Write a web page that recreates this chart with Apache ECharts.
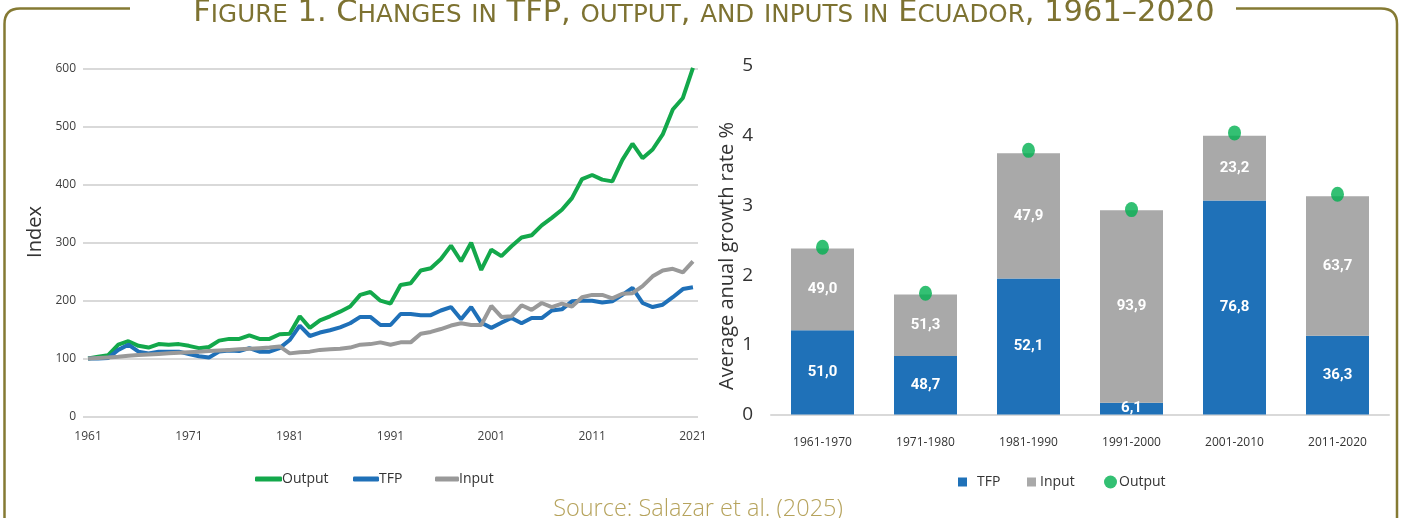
<!DOCTYPE html>
<html>
<head>
<meta charset="utf-8">
<script src="https://cdn.jsdelivr.net/npm/echarts@6/dist/echarts.min.js"></script>
<style>
html,body{margin:0;padding:0;background:#fff;}
#chart{width:1403px;height:518px;}
</style>
</head>
<body>
<div id="chart"></div>
<script>
// ---------- DATA ----------
const titleText = 'Figure 1. Changes in TFP, output, and inputs in Ecuador, 1961–2020';
const sourceText = 'Source: Salazar et al. (2025)';
const leftAxisName = 'Index';
const rightAxisName = 'Average anual growth rate %';

const firstYear = 1961;
const lastYear = 2021;
const yearTicks = [1961, 1971, 1981, 1991, 2001, 2011, 2021];

const outputIndex = [100,103,106,124,130,122,119,125,124,125,122,118,120,131,134,134,140,134,134,142,
  143,173,153,166,173,181,190,210,215,200,195,227,230,252,256,272,295,268,300,253,
  288,277,294,309,313,330,343,357,377,410,417,409,406,443,471,446,461,487,530,550,602];
const tfpIndex = [100,100,101,115,124,112,109,112,112,112,108,104,102,112,114,113,118,112,112,118,
  132,157,139,145,149,154,161,172,172,158,158,177,177,175,175,183,189,168,189,162,
  153,162,170,161,170,170,183,185,199,200,200,197,199,210,222,196,189,193,206,220,223];
const inputIndex = [100,101,102,103,105,106,107,108,109,110,111,112,113,114,115,116,117,118,119,121,
  109,111,112,115,116,117,119,124,125,128,124,128,128,143,146,151,157,161,158,158,
  191,172,173,192,184,196,189,195,190,206,210,210,204,212,213,225,242,252,255,249,268];

const periods = ['1961-1970','1971-1980','1981-1990','1991-2000','2001-2010','2011-2020'];
const tfpGrowth = [1.21, 0.84, 1.95, 0.17, 3.07, 1.13];
const inputGrowth = [1.17, 0.88, 1.80, 2.76, 0.93, 2.00];
const outputGrowth = [2.40, 1.74, 3.79, 2.94, 4.04, 3.16];
const tfpShare = ['51,0','48,7','52,1','6,1','76,8','36,3'];
const inputShare = ['49,0','51,3','47,9','93,9','23,2','63,7'];

// ---------- BUILD ----------
const years = [];
for (let y = firstYear; y <= lastYear; y++) years.push(y);
const pair = arr => years.map((y, i) => [y, arr[i]]);

function smallCaps(str) {
  let out = '', cur = null, buf = '';
  for (const ch of str) {
    const cls = /[a-z]/.test(ch) ? 's' : 'b';
    if (cls !== cur && buf) { out += '{' + cur + '|' + buf + '}'; buf = ''; }
    cur = cls; buf += ch.toUpperCase();
  }
  if (buf) out += '{' + cur + '|' + buf + '}';
  return out;
}

const gold = '#857a33';
const titleColor = '#7d7231';
const fontFam = '"Open Sans", "Noto Sans", sans-serif';
const titleFont = '"DejaVu Sans", "Open Sans", sans-serif';
const labelFont = 'Roboto, "Open Sans", sans-serif';
const cGreen = '#13a84b', cBlue = '#1f70b8', cGray = '#999999';
const frameStyle = { stroke: gold, lineWidth: 2.5, fill: 'none' };
const legText = { fontSize: 14, color: '#333', fontFamily: fontFam };

const chart = echarts.init(document.getElementById('chart'));
chart.setOption({
  animation: false,
  textStyle: { fontFamily: fontFam },
  graphic: [
    { type: 'line', silent: true, shape: { x1: 130, y1: 8.5, x2: 20, y2: 8.5 }, style: frameStyle },
    { type: 'bezierCurve', silent: true, shape: { x1: 20, y1: 8.5, x2: 4.5, y2: 24, cpx1: 4.5, cpy1: 8.5 }, style: frameStyle },
    { type: 'line', silent: true, shape: { x1: 4.5, y1: 24, x2: 4.5, y2: 530 }, style: frameStyle },
    { type: 'line', silent: true, shape: { x1: 1236, y1: 8.5, x2: 1381, y2: 8.5 }, style: frameStyle },
    { type: 'bezierCurve', silent: true, shape: { x1: 1381, y1: 8.5, x2: 1397, y2: 24, cpx1: 1397, cpy1: 8.5 }, style: frameStyle },
    { type: 'line', silent: true, shape: { x1: 1397, y1: 24, x2: 1397, y2: 530 }, style: frameStyle },
    { type: 'text', x: 704, y: 13,
      style: { text: smallCaps(titleText), align: 'center', verticalAlign: 'middle', fill: titleColor,
        rich: {
          b: { fontSize: 30.5, lineHeight: 30.5, fontFamily: titleFont, fill: titleColor, verticalAlign: 'bottom' },
          s: { fontSize: 24.6, lineHeight: 24.6, fontFamily: titleFont, fill: titleColor, verticalAlign: 'bottom' }
        } } },
    { type: 'text', x: 698, y: 509,
      style: { text: sourceText, align: 'center', verticalAlign: 'middle', fill: '#b6a35c',
        fontSize: 23.5, fontWeight: 300, fontFamily: fontFam } },
    { type: 'text', x: 35, y: 232, rotation: Math.PI / 2,
      style: { text: leftAxisName, align: 'center', verticalAlign: 'middle', fill: '#333',
        fontSize: 20, fontFamily: fontFam } },
    { type: 'text', x: 727, y: 256, rotation: Math.PI / 2,
      style: { text: rightAxisName, align: 'center', verticalAlign: 'middle', fill: '#333',
        fontSize: 20, fontFamily: fontFam } }
  ],
  grid: [
    { left: 83, top: 69, width: 615, height: 347.5 },
    { left: 771, top: 66, width: 618, height: 348.5 }
  ],
  legend: [
    { data: ['Output'], left: 250, top: 467, icon: 'roundRect', itemWidth: 27, itemHeight: 5,
      textStyle: Object.assign({ padding: [0,0,0,-5] }, legText) },
    { data: ['TFP'], left: 348, top: 467, icon: 'roundRect', itemWidth: 26, itemHeight: 5,
      textStyle: Object.assign({ padding: [0,0,0,-5] }, legText) },
    { data: ['Input'], left: 430, top: 467, icon: 'roundRect', itemWidth: 24, itemHeight: 5,
      textStyle: Object.assign({ padding: [0,0,0,-5] }, legText) },
    { data: [{ name: 'TFP Bar', icon: 'rect' }], left: 953, top: 470, itemWidth: 9, itemHeight: 9,
      formatter: n => n.replace(' Bar', ''), textStyle: Object.assign({ padding: [0,0,0,5] }, legText) },
    { data: [{ name: 'Input Bar', icon: 'rect' }], left: 1022, top: 470, itemWidth: 9, itemHeight: 9,
      formatter: n => n.replace(' Bar', ''), textStyle: Object.assign({ padding: [0,0,0,-1] }, legText) },
    { data: [{ name: 'Output Dot', icon: 'circle' }], left: 1099, top: 470, itemWidth: 13, itemHeight: 13,
      formatter: n => n.replace(' Dot', ''), textStyle: Object.assign({ padding: [0,0,0,-3] }, legText) }
  ],
  xAxis: [
    { gridIndex: 0, type: 'value', min: firstYear - 0.5, max: lastYear + 0.5,
      axisLine: { show: false }, axisTick: { show: false }, splitLine: { show: false },
      axisLabel: { customValues: yearTicks, formatter: v => String(v), fontSize: 12, color: '#404040', margin: 14 } },
    { gridIndex: 1, type: 'category', data: periods,
      axisLine: { lineStyle: { color: '#d9d9d9', width: 2 } }, axisTick: { show: false },
      axisLabel: { fontSize: 12, color: '#333', margin: 22 } }
  ],
  yAxis: [
    { gridIndex: 0, type: 'value', min: 0, max: 600, interval: 100,
      axisLine: { show: false }, axisTick: { show: false },
      splitLine: { lineStyle: { color: '#d9d9d9', width: 2 } },
      axisLabel: { fontSize: 12, color: '#404040', margin: 7 } },
    { gridIndex: 1, type: 'value', min: 0, max: 5, interval: 1,
      axisLine: { show: false }, axisTick: { show: false }, splitLine: { show: false },
      axisLabel: { fontSize: 19, color: '#333', margin: 18 } }
  ],
  series: [
    { name: 'Output', type: 'line', xAxisIndex: 0, yAxisIndex: 0, data: pair(outputIndex),
      symbol: 'none', lineStyle: { color: cGreen, width: 4 }, itemStyle: { color: cGreen } },
    { name: 'TFP', type: 'line', xAxisIndex: 0, yAxisIndex: 0, data: pair(tfpIndex),
      symbol: 'none', lineStyle: { color: cBlue, width: 4 }, itemStyle: { color: cBlue } },
    { name: 'Input', type: 'line', xAxisIndex: 0, yAxisIndex: 0, data: pair(inputIndex),
      symbol: 'none', lineStyle: { color: cGray, width: 4 }, itemStyle: { color: cGray } },
    { name: 'TFP Bar', type: 'bar', xAxisIndex: 1, yAxisIndex: 1, stack: 'g', data: tfpGrowth,
      barWidth: 63, itemStyle: { color: '#1f71b8' },
      label: { show: true, position: 'inside', color: '#fff', fontWeight: 'bold', fontSize: 15, fontFamily: labelFont,
        formatter: p => tfpShare[p.dataIndex] } },
    { name: 'Input Bar', type: 'bar', xAxisIndex: 1, yAxisIndex: 1, stack: 'g', data: inputGrowth,
      barWidth: 63, itemStyle: { color: '#a9a9a9' },
      label: { show: true, position: 'inside', color: '#fff', fontWeight: 'bold', fontSize: 15, fontFamily: labelFont,
        formatter: p => inputShare[p.dataIndex] } },
    { name: 'Output Dot', type: 'scatter', xAxisIndex: 1, yAxisIndex: 1, data: outputGrowth,
      symbol: 'circle', symbolSize: [13, 15], itemStyle: { color: '#00b050' }, z: 5 }
  ]
});
</script>
</body>
</html>
